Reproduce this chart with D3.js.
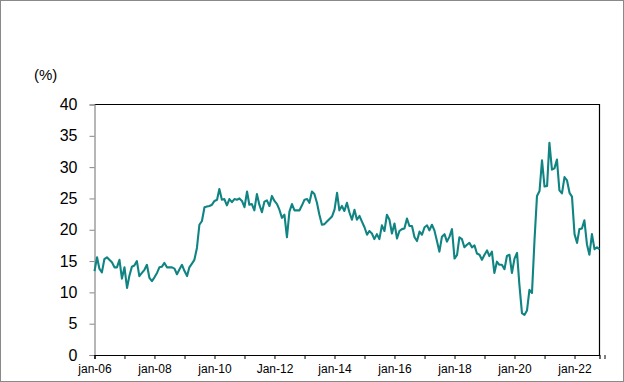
<!DOCTYPE html>
<html>
<head>
<meta charset="utf-8">
<script src="https://cdn.jsdelivr.net/npm/d3@7"></script>
<style>
  html, body { margin: 0; padding: 0; background: #fff; }
  svg { display: block; }
</style>
</head>
<body>
<svg id="chart" width="624" height="382"></svg>
<script>
// monthly series, jan-06 .. nov-22 (%)
const startMonth = new Date(2006, 0, 1);
const endMonth = new Date(2022, 10, 1);
const values = [
  13.4, 15.6, 13.8, 13.2, 15.3, 15.6, 15.2, 14.8, 14.0, 14.0, 15.2, 12.2,
  14.0, 10.7, 12.6, 14.1, 14.3, 15.0, 12.6, 13.1, 13.6, 14.4, 12.3, 11.8,
  12.4, 13.1, 14.0, 14.1, 14.7, 14.0, 14.0, 14.0, 13.8, 12.9, 13.7, 14.4,
  13.4, 12.6, 14.0, 14.6, 15.2, 17.1, 20.8, 21.4, 23.6, 23.7, 23.8, 24.0,
  24.6, 24.8, 26.5, 24.8, 24.9, 23.9, 24.9, 24.4, 24.9, 24.8, 25.0, 24.6,
  23.6, 26.1, 24.0, 24.1, 23.1, 25.7, 24.0, 22.8, 24.5, 24.7, 23.8, 25.4,
  24.6, 24.1, 23.2, 21.9, 22.4, 18.8, 22.9, 24.1, 23.1, 23.1, 23.1, 23.9,
  24.8, 24.9, 24.3, 26.1, 25.7, 24.3, 22.4, 20.8, 20.9, 21.3, 21.7, 22.1,
  23.2, 25.9, 23.1, 23.8, 23.0, 24.3, 22.8, 21.6, 23.2, 21.6, 22.2, 21.3,
  20.4, 19.2, 19.8, 19.4, 18.5, 19.3, 18.5, 20.7, 19.8, 22.4, 21.6, 19.4,
  21.0, 18.6, 19.8, 20.1, 20.2, 21.8, 20.6, 20.6, 18.8, 18.2, 19.7, 19.2,
  20.4, 20.7, 19.9, 20.8, 19.9, 18.2, 16.5, 18.9, 19.3, 18.1, 18.9, 20.1,
  15.4, 16.0, 18.8, 18.5, 17.2, 17.6, 17.9, 17.2, 17.5, 16.2, 16.0, 15.2,
  16.0, 16.7, 15.8, 16.5, 13.1, 14.9, 14.4, 14.4, 13.7, 15.8, 16.0, 13.1,
  15.4, 16.3, 11.2, 6.7, 6.4, 7.1, 10.4, 9.9, 18.4, 25.4, 26.2, 31.1,
  26.9, 27.0, 33.9, 29.6, 29.8, 31.2, 26.3, 25.8, 28.4, 27.9, 25.9, 25.3,
  19.3, 17.9, 20.1, 20.2, 21.5, 17.7, 16.0, 19.3, 16.9, 17.2, 16.9
];
const yTicks = [0, 5, 10, 15, 20, 25, 30, 35, 40];
const xTickLabels = ['jan-06', 'jan-08', 'jan-10', 'Jan-12', 'jan-14', 'jan-16', 'jan-18', 'jan-20', 'jan-22'];

const months = d3.timeMonth.range(startMonth, d3.timeMonth.offset(endMonth, 1));
const data = months.map((d, i) => ({ date: d, value: values[i] }));

const svg = d3.select('#chart');
const plotLeft = 94.5, plotRight = 599.5, plotTop = 104.5, plotBottom = 355;

// outer chart border
svg.append('rect')
  .attr('x', 0.5).attr('y', 0.5)
  .attr('width', 623).attr('height', 381)
  .attr('fill', '#fff')
  .attr('stroke', '#898989');

const x = d3.scaleTime()
  .domain([startMonth, endMonth])
  .range([plotLeft, plotRight]);
const y = d3.scaleLinear()
  .domain([0, 40])
  .range([plotBottom, plotTop]);

// plot frame: top and right in black
svg.append('path')
  .attr('d', `M${plotLeft},${plotTop}H${plotRight}V${plotBottom}`)
  .attr('fill', 'none')
  .attr('stroke', '#000')
  .attr('stroke-width', 1.2);

// y axis (grey)
const yAxis = svg.append('g')
  .attr('transform', `translate(${plotLeft},0)`)
  .call(d3.axisLeft(y).tickValues(yTicks).tickSize(5).tickPadding(12));
yAxis.select('.domain').attr('stroke', '#868686').attr('stroke-width', 1.2);
yAxis.selectAll('.tick line').attr('stroke', '#868686');
yAxis.selectAll('.tick text')
  .attr('fill', '#000')
  .style('font-family', '"Liberation Sans", Arial, sans-serif')
  .style('font-size', '16px');

// x axis (black), tick every january, label every second one
const yearTicks = d3.timeYear.range(startMonth, d3.timeYear.offset(endMonth, 1));
const xAxis = svg.append('g')
  .attr('transform', `translate(0,${plotBottom})`)
  .call(d3.axisBottom(x)
    .tickValues(yearTicks)
    .tickSize(4)
    .tickPadding(5)
    .tickFormat((d, i) => i % 2 === 0 ? xTickLabels[i / 2] : ''));
xAxis.select('.domain').attr('stroke', '#000').attr('stroke-width', 1.2);
xAxis.selectAll('.tick line').attr('stroke', '#000');
xAxis.selectAll('.tick text')
  .attr('fill', '#000')
  .style('font-family', '"Liberation Sans Narrow", "Liberation Sans", Arial, sans-serif')
  .style('font-size', '12px');

// unit label
svg.append('text')
  .attr('x', 34).attr('y', 80)
  .style('font-family', '"Liberation Sans", Arial, sans-serif')
  .style('font-size', '15px')
  .text('(%)');

// series line
const line = d3.line()
  .x(d => x(d.date))
  .y(d => y(d.value));
svg.append('path')
  .datum(data)
  .attr('fill', 'none')
  .attr('stroke', '#108482')
  .attr('stroke-width', 2.1)
  .attr('stroke-linejoin', 'round')
  .attr('d', line);
</script>
</body>
</html>
